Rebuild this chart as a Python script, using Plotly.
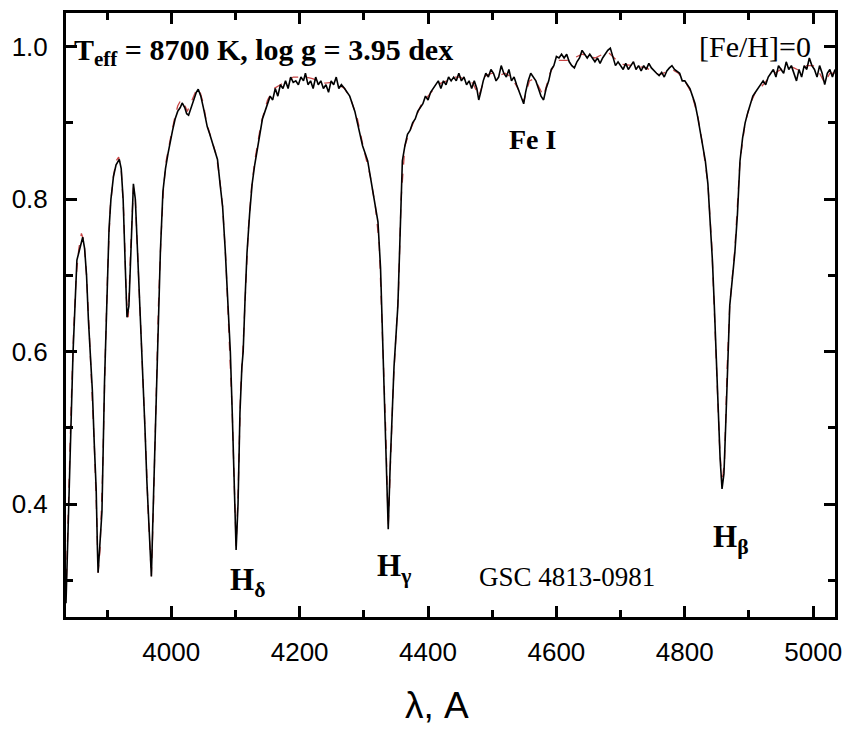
import plotly.graph_objects as go

# observed spectrum (wavelength in A, normalised flux)
obs_wl = [3836, 3838, 3840, 3842, 3844, 3847, 3850, 3853, 3856, 3859,
          3862, 3865, 3868, 3871, 3874, 3877, 3880, 3883, 3885, 3886,
          3889, 3892, 3896, 3900, 3903, 3906, 3910, 3914, 3919, 3922,
          3925, 3928, 3931, 3934, 3937, 3941, 3944, 3947, 3951, 3955,
          3959, 3962, 3966, 3969, 3972, 3975, 3978, 3983, 3987, 3991,
          3995, 3998, 4002, 4006, 4010, 4014, 4017, 4021, 4024, 4027,
          4031, 4035, 4039, 4042, 4046, 4050, 4053, 4056, 4060, 4064,
          4068, 4072, 4076, 4080, 4084, 4088, 4092, 4095, 4098, 4101,
          4104, 4107, 4110, 4112, 4115, 4118, 4122, 4126, 4130, 4134,
          4138, 4142, 4146, 4150, 4154, 4158, 4162, 4166, 4170, 4174,
          4178, 4182, 4186, 4190, 4194, 4198, 4202, 4206, 4209, 4213,
          4217, 4221, 4225, 4229, 4233, 4237, 4241, 4245, 4249, 4253,
          4257, 4261, 4265, 4270, 4274, 4278, 4282, 4286, 4290, 4294,
          4298, 4302, 4306, 4310, 4314, 4318, 4322, 4326, 4329, 4332,
          4335, 4338, 4341, 4344, 4347, 4350, 4353, 4356, 4360, 4364,
          4368, 4372, 4376, 4380, 4384, 4388, 4392, 4396, 4400, 4404,
          4408, 4412, 4416, 4420, 4424, 4428, 4432, 4436, 4440, 4444,
          4448, 4452, 4456, 4460, 4464, 4468, 4472, 4476, 4479, 4482,
          4486, 4490, 4494, 4498, 4502, 4506, 4510, 4514, 4518, 4522,
          4526, 4530, 4534, 4538, 4542, 4546, 4549, 4552, 4556, 4560,
          4564, 4568, 4572, 4576, 4580, 4584, 4588, 4592, 4596, 4600,
          4604, 4608, 4612, 4616, 4620, 4624, 4628, 4632, 4636, 4640,
          4644, 4648, 4652, 4656, 4660, 4664, 4668, 4672, 4676, 4680,
          4684, 4688, 4692, 4696, 4700, 4704, 4708, 4712, 4716, 4720,
          4724, 4728, 4732, 4736, 4740, 4744, 4748, 4752, 4756, 4760,
          4764, 4768, 4772, 4776, 4780, 4784, 4788, 4792, 4796, 4800,
          4804, 4808, 4812, 4816, 4820, 4824, 4828, 4832, 4836, 4840,
          4843, 4846, 4849, 4852, 4855, 4858, 4861, 4864, 4867, 4870,
          4874, 4878, 4882, 4886, 4890, 4894, 4898, 4902, 4906, 4910,
          4914, 4918, 4922, 4926, 4930, 4934, 4938, 4942, 4946, 4950,
          4954, 4958, 4962, 4966, 4970, 4974, 4978, 4982, 4986, 4990,
          4994, 4998, 5002, 5006, 5010, 5014, 5018, 5022, 5026, 5030,
          5034]
obs_flux = [0.27, 0.33, 0.40, 0.46, 0.52, 0.60, 0.66, 0.72, 0.73, 0.74,
            0.75, 0.735, 0.70, 0.64, 0.60, 0.55, 0.48, 0.42, 0.34, 0.31,
            0.35, 0.39, 0.56, 0.69, 0.76, 0.80, 0.83, 0.845, 0.852, 0.84,
            0.80, 0.72, 0.645, 0.66, 0.74, 0.82, 0.80, 0.74, 0.66, 0.60,
            0.50, 0.43, 0.35, 0.305, 0.40, 0.50, 0.60, 0.73, 0.81, 0.84,
            0.86, 0.874, 0.89, 0.905, 0.915, 0.92, 0.926, 0.92, 0.912, 0.91,
            0.92, 0.93, 0.94, 0.944, 0.935, 0.92, 0.905, 0.895, 0.885, 0.875,
            0.862, 0.852, 0.82, 0.79, 0.734, 0.66, 0.60, 0.52, 0.43, 0.34,
            0.40, 0.52, 0.58, 0.60, 0.67, 0.73, 0.78, 0.82, 0.845, 0.865,
            0.89, 0.905, 0.915, 0.925, 0.935, 0.93, 0.945, 0.935, 0.95, 0.945,
            0.955, 0.945, 0.96, 0.953, 0.955, 0.95, 0.96, 0.955, 0.965, 0.95,
            0.955, 0.945, 0.96, 0.95, 0.955, 0.945, 0.95, 0.94, 0.955, 0.95,
            0.96, 0.945, 0.95, 0.945, 0.94, 0.935, 0.925, 0.915, 0.90, 0.885,
            0.87, 0.86, 0.85, 0.83, 0.81, 0.79, 0.77, 0.71, 0.63, 0.55,
            0.47, 0.367, 0.45, 0.52, 0.58, 0.62, 0.66, 0.74, 0.85, 0.87,
            0.885, 0.89, 0.90, 0.905, 0.915, 0.92, 0.925, 0.935, 0.93, 0.94,
            0.945, 0.95, 0.955, 0.945, 0.955, 0.95, 0.96, 0.955, 0.96, 0.955,
            0.965, 0.955, 0.96, 0.95, 0.955, 0.945, 0.955, 0.945, 0.93, 0.94,
            0.955, 0.965, 0.96, 0.97, 0.965, 0.955, 0.96, 0.975, 0.965, 0.96,
            0.97, 0.955, 0.96, 0.95, 0.94, 0.93, 0.925, 0.94, 0.955, 0.965,
            0.96, 0.955, 0.945, 0.935, 0.93, 0.945, 0.955, 0.97, 0.975, 0.987,
            0.985, 0.99, 0.985, 0.99, 0.98, 0.975, 0.972, 0.98, 0.985, 0.995,
            0.99, 0.985, 0.99, 0.985, 0.98, 0.985, 0.978, 0.985, 0.99, 0.995,
            0.998, 0.985, 0.975, 0.98, 0.975, 0.97, 0.978, 0.97, 0.975, 0.98,
            0.97, 0.975, 0.968, 0.975, 0.97, 0.978, 0.972, 0.968, 0.965, 0.962,
            0.966, 0.96, 0.968, 0.972, 0.975, 0.97, 0.968, 0.965, 0.955, 0.955,
            0.95, 0.945, 0.935, 0.925, 0.908, 0.89, 0.87, 0.85, 0.82, 0.77,
            0.72, 0.66, 0.59, 0.52, 0.46, 0.42, 0.44, 0.51, 0.60, 0.66,
            0.695, 0.73, 0.78, 0.85, 0.88, 0.90, 0.913, 0.925, 0.935, 0.94,
            0.945, 0.95, 0.955, 0.95, 0.96, 0.965, 0.97, 0.96, 0.975, 0.97,
            0.965, 0.98, 0.97, 0.975, 0.965, 0.955, 0.97, 0.96, 0.975, 0.97,
            0.985, 0.975, 0.97, 0.96, 0.975, 0.965, 0.95, 0.965, 0.97, 0.96,
            0.97]

# synthetic (model) spectrum
mod_wl = [3836, 3840, 3844, 3848, 3852, 3856, 3860, 3864, 3868, 3872,
          3876, 3880, 3884, 3886, 3889, 3893, 3897, 3901, 3905, 3910,
          3914, 3918, 3922, 3926, 3930, 3933, 3937, 3941, 3944, 3948,
          3952, 3956, 3960, 3964, 3969, 3972, 3976, 3980, 3984, 3988,
          3992, 3996, 4000, 4005, 4010, 4015, 4020, 4025, 4030, 4035,
          4040, 4045, 4050, 4055, 4060, 4065, 4070, 4075, 4080, 4085,
          4090, 4095, 4098, 4101, 4104, 4108, 4112, 4116, 4120, 4125,
          4130, 4135, 4140, 4150, 4160, 4170, 4180, 4190, 4200, 4210,
          4220, 4230, 4240, 4250, 4260, 4270, 4280, 4290, 4300, 4310,
          4318, 4324, 4329, 4334, 4338, 4342, 4346, 4350, 4354, 4358,
          4364, 4372, 4380, 4390, 4400, 4410, 4420, 4430, 4440, 4450,
          4460, 4470, 4479, 4490, 4500, 4510, 4520, 4530, 4540, 4549,
          4558, 4566, 4580, 4590, 4600, 4620, 4640, 4660, 4680, 4700,
          4720, 4740, 4760, 4780, 4790, 4800, 4810, 4820, 4828, 4836,
          4842, 4848, 4854, 4858, 4862, 4866, 4870, 4878, 4886, 4894,
          4902, 4910, 4920, 4930, 4940, 4950, 4960, 4970, 4980, 4990,
          5000, 5010, 5018, 5026, 5034]
mod_flux = [0.28, 0.41, 0.53, 0.63, 0.70, 0.735, 0.755, 0.745, 0.70, 0.63,
            0.56, 0.48, 0.38, 0.31, 0.34, 0.44, 0.59, 0.71, 0.79, 0.83,
            0.85, 0.855, 0.84, 0.78, 0.67, 0.645, 0.74, 0.815, 0.80, 0.72,
            0.65, 0.575, 0.48, 0.39, 0.305, 0.39, 0.54, 0.66, 0.75, 0.815,
            0.85, 0.87, 0.885, 0.905, 0.922, 0.93, 0.925, 0.915, 0.925, 0.935,
            0.945, 0.94, 0.925, 0.90, 0.885, 0.872, 0.858, 0.83, 0.79, 0.72,
            0.63, 0.52, 0.43, 0.345, 0.41, 0.55, 0.61, 0.69, 0.76, 0.815,
            0.85, 0.875, 0.90, 0.93, 0.945, 0.95, 0.955, 0.96, 0.96, 0.96,
            0.958, 0.955, 0.952, 0.953, 0.95, 0.945, 0.93, 0.905, 0.865, 0.83,
            0.79, 0.74, 0.63, 0.50, 0.37, 0.47, 0.56, 0.62, 0.68, 0.80,
            0.87, 0.89, 0.905, 0.925, 0.935, 0.945, 0.952, 0.955, 0.96, 0.96,
            0.955, 0.952, 0.935, 0.962, 0.965, 0.962, 0.965, 0.96, 0.945, 0.928,
            0.955, 0.958, 0.935, 0.965, 0.982, 0.982, 0.99, 0.985, 0.993, 0.977,
            0.975, 0.972, 0.963, 0.97, 0.965, 0.955, 0.94, 0.91, 0.87, 0.82,
            0.74, 0.62, 0.48, 0.425, 0.46, 0.58, 0.66, 0.735, 0.85, 0.90,
            0.925, 0.94, 0.948, 0.958, 0.965, 0.97, 0.975, 0.972, 0.968, 0.975,
            0.975, 0.965, 0.952, 0.965, 0.965]

x_ticks = [4000, 4200, 4400, 4600, 4800, 5000]
x_minor = [3900, 4100, 4300, 4500, 4700, 4900]
y_ticks = [0.4, 0.6, 0.8, 1.0]
y_labels = ["0.4", "0.6", "0.8", "1.0"]
y_minor = [0.3, 0.5, 0.7, 0.9]

serif = "Liberation Serif, Times New Roman, serif"
sans = "Liberation Sans, Arial, sans-serif"

data = [
    go.Scatter(x=mod_wl, y=mod_flux, mode="lines",
               line=dict(color="rgb(200,70,70)", width=1.3, dash="dash"),
               showlegend=False),
    go.Scatter(x=obs_wl, y=obs_flux, mode="lines",
               line=dict(color="black", width=1.6),
               showlegend=False),
]

annotations = [
    dict(x=3845, y=0.993, xref="x", yref="y", xanchor="left", yanchor="middle",
         text="<b>T<sub>eff</sub> = 8700 K, log g = 3.95 dex</b>",
         font=dict(family=serif, size=30, color="black"), showarrow=False),
    dict(x=4999, y=1.0, xref="x", yref="y", xanchor="right", yanchor="middle",
         text="[Fe/H]=0", font=dict(family=serif, size=30, color="black"), showarrow=False),
    dict(x=4563, y=0.878, xref="x", yref="y", text="<b>Fe I</b>",
         font=dict(family=serif, size=28, color="black"), showarrow=False),
    dict(x=4118, y=0.298, xref="x", yref="y", text="<b>H<sub>δ</sub></b>",
         font=dict(family=serif, size=31, color="black"), showarrow=False),
    dict(x=4347, y=0.316, xref="x", yref="y", text="<b>H<sub>γ</sub></b>",
         font=dict(family=serif, size=31, color="black"), showarrow=False),
    dict(x=4872, y=0.354, xref="x", yref="y", text="<b>H<sub>β</sub></b>",
         font=dict(family=serif, size=31, color="black"), showarrow=False),
    dict(x=4617, y=0.305, xref="x", yref="y", text="GSC 4813-0981",
         font=dict(family=serif, size=27, color="black"), showarrow=False),
    dict(x=0.483, y=-0.146, xref="paper", yref="paper", text="λ, A",
         font=dict(family=sans, size=37, color="black"),
         showarrow=False, yanchor="middle"),
]

layout = go.Layout(
    width=846, height=730,
    margin=dict(l=66, r=11, t=13, b=113),
    paper_bgcolor="white", plot_bgcolor="white",
    font=dict(family=sans, size=26, color="black"),
    xaxis=dict(range=[3836, 5034], tickmode="array", tickvals=x_ticks,
               ticks="inside", ticklen=11, tickwidth=3, tickcolor="black",
               minor=dict(tickvals=x_minor, ticks="inside",
                          ticklen=7, tickwidth=3, tickcolor="black"),
               showline=True, linecolor="black", linewidth=3, mirror="ticks",
               showgrid=False, zeroline=False, ticklabelstandoff=10,
               automargin=False),
    yaxis=dict(range=[0.252, 1.044], tickmode="array", tickvals=y_ticks,
               ticktext=y_labels,
               ticks="inside", ticklen=11, tickwidth=3, tickcolor="black",
               minor=dict(tickvals=y_minor, ticks="inside",
                          ticklen=7, tickwidth=3, tickcolor="black"),
               showline=True, linecolor="black", linewidth=3, mirror="ticks",
               showgrid=False, zeroline=False, ticklabelstandoff=10,
               automargin=False),
    annotations=annotations,
)

fig = go.Figure(data=data, layout=layout)
fig.write_html("out.html", config={"displayModeBar": False},
               post_script="document.body.style.margin='0px';")
